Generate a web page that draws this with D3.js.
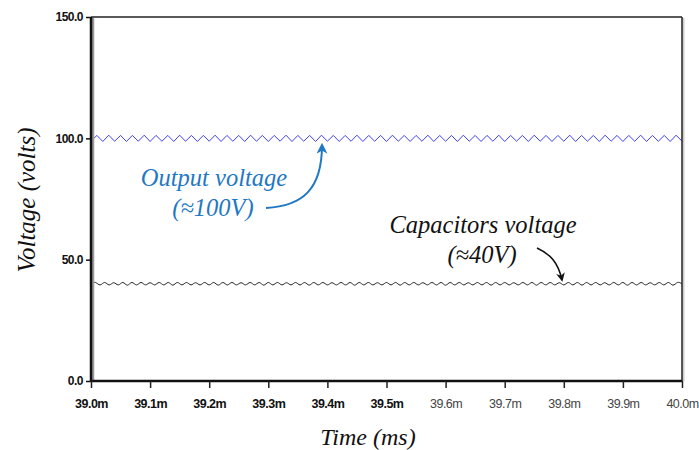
<!DOCTYPE html>
<html lang="en">
<head>
	<meta charset="UTF-8">
	<title>Voltage vs time</title>
	<script src="https://d3js.org/d3.v7.min.js"></script>
	<style>
		body { margin: 0; background: #fff; }
	</style>
</head>
<body>
	<script type="text/javascript">
		// tick labels
		const xTicks = [39.0, 39.1, 39.2, 39.3, 39.4, 39.5, 39.6, 39.7, 39.8, 39.9, 40.0];
		const yTicks = [0, 50, 100, 150];

		// output voltage, sampled at every ripple peak / trough (0.01 ms apart)
		const outStep = 0.01;
		const outputVoltage = [
			98.8, 101.2, 98.7, 101.3, 98.8, 101.2, 98.7, 101.2, 98.8, 101.3,
			98.7, 101.2, 98.8, 101.2, 98.7, 101.3, 98.8, 101.2, 98.7, 101.2,
			98.8, 101.3, 98.7, 101.2, 98.8, 101.2, 98.7, 101.3, 98.8, 101.2,
			98.7, 101.2, 98.8, 101.3, 98.7, 101.2, 98.8, 101.2, 98.7, 101.3,
			98.8, 101.2, 98.7, 101.2, 98.8, 101.3, 98.7, 101.2, 98.8, 101.2,
			98.7, 101.3, 98.8, 101.2, 98.7, 101.2, 98.8, 101.3, 98.7, 101.2,
			98.8, 101.2, 98.7, 101.3, 98.8, 101.2, 98.7, 101.2, 98.8, 101.3,
			98.7, 101.2, 98.8, 101.2, 98.7, 101.3, 98.8, 101.2, 98.7, 101.2,
			98.8, 101.3, 98.7, 101.2, 98.8, 101.2, 98.7, 101.3, 98.8, 101.2,
			98.7, 101.2, 98.8, 101.3, 98.7, 101.2, 98.8, 101.2, 98.7, 101.3,
			98.8
		];

		// capacitors voltage, sampled at every ripple peak / trough
		const capStep = 1 / 130;
		const capacitorsVoltage = [
			40.0, 40.6, 39.6, 40.6, 39.6, 40.5, 39.6, 40.6, 39.5, 40.6,
			39.6, 40.6, 39.6, 40.5, 39.6, 40.6, 39.6, 40.6, 39.5, 40.6,
			39.6, 40.6, 39.6, 40.5, 39.6, 40.6, 39.6, 40.6, 39.5, 40.6,
			39.6, 40.6, 39.6, 40.5, 39.6, 40.6, 39.6, 40.6, 39.5, 40.6,
			39.6, 40.6, 39.6, 40.5, 39.6, 40.6, 39.6, 40.6, 39.5, 40.6,
			39.6, 40.6, 39.6, 40.5, 39.6, 40.6, 39.6, 40.6, 39.5, 40.6,
			39.6, 40.6, 39.6, 40.5, 39.6, 40.6, 39.6, 40.6, 39.5, 40.6,
			39.6, 40.6, 39.6, 40.5, 39.6, 40.6, 39.6, 40.6, 39.5, 40.6,
			39.6, 40.6, 39.6, 40.5, 39.6, 40.6, 39.6, 40.6, 39.5, 40.6,
			39.6, 40.6, 39.6, 40.5, 39.6, 40.6, 39.6, 40.6, 39.5, 40.6,
			39.6, 40.6, 39.6, 40.5, 39.6, 40.6, 39.6, 40.6, 39.5, 40.6,
			39.6, 40.6, 39.6, 40.5, 39.6, 40.6, 39.6, 40.6, 39.5, 40.6,
			39.6, 40.6, 39.6, 40.5, 39.6, 40.6, 39.6, 40.6, 39.5, 40.6,
			40.0
		];

		const width = 699;
		const height = 450;
		const mLeft = 91, mRight = 682, mTop = 17, mBottom = 381;

		const xScale = d3.scaleLinear().domain([39.0, 40.0]).range([mLeft, mRight]);
		const yScale = d3.scaleLinear().domain([0, 150]).range([mBottom, mTop]);

		const svg = d3.select("body")
			.append("svg")
			.attr("width", width)
			.attr("height", height);

		// waveforms
		const outLine = d3.line()
			.x((d, i) => xScale(39.0 + i * outStep))
			.y((d) => yScale(d));

		svg.append("path")
			.datum(outputVoltage.filter((d, i) => 39.0 + i * outStep <= 40.0001))
			.attr("d", outLine)
			.attr("fill", "none")
			.attr("stroke", "#4040f5")
			.attr("stroke-width", 1);

		const capLine = d3.line()
			.x((d, i) => xScale(39.0 + i * capStep))
			.y((d) => yScale(d))
			.curve(d3.curveNatural);

		svg.append("path")
			.datum(capacitorsVoltage.filter((d, i) => 39.0 + i * capStep <= 40.0001))
			.attr("d", capLine)
			.attr("fill", "none")
			.attr("stroke", "#222")
			.attr("stroke-width", 1);

		// frame: top and right
		svg.append("line")
			.attr("x1", mLeft).attr("x2", mRight)
			.attr("y1", mTop).attr("y2", mTop)
			.attr("stroke", "#222").attr("stroke-width", 1.5);
		svg.append("line")
			.attr("x1", mRight + 1.5).attr("x2", mRight + 1.5)
			.attr("y1", mTop + 1).attr("y2", mBottom)
			.attr("stroke", "#ccc").attr("stroke-width", 2);
		svg.append("line")
			.attr("x1", mRight).attr("x2", mRight)
			.attr("y1", mTop).attr("y2", mBottom)
			.attr("stroke", "#222").attr("stroke-width", 1.5);

		// y axis (thick line with grey shade)
		svg.append("line")
			.attr("x1", mLeft + 2).attr("x2", mLeft + 2)
			.attr("y1", mTop + 1).attr("y2", mBottom)
			.attr("stroke", "#999").attr("stroke-width", 2.5);

		const yAxis = d3.axisLeft(yScale)
			.tickValues(yTicks)
			.tickSize(5)
			.tickPadding(3)
			.tickFormat(d3.format(".1f"));

		const gy = svg.append("g")
			.attr("transform", `translate(${mLeft},0)`)
			.call(yAxis);
		gy.select(".domain").attr("stroke", "#111").attr("stroke-width", 2.5).attr("d", `M0,${mTop}V${mBottom}`);
		gy.selectAll(".tick line").attr("stroke", "#111").attr("stroke-width", 1.5);
		gy.selectAll("text")
			.attr("font-family", "'Liberation Sans', Arial, sans-serif")
			.attr("font-weight", "bold")
			.attr("font-size", "12px")
			.attr("letter-spacing", "-0.5px")
			.attr("fill", "#111");

		// x axis
		const xAxis = d3.axisBottom(xScale)
			.tickValues(xTicks)
			.tickSize(7)
			.tickPadding(11)
			.tickFormat((d) => d3.format(".1f")(d) + "m");

		const gx = svg.append("g")
			.attr("transform", `translate(0,${mBottom})`)
			.call(xAxis);
		gx.select(".domain").attr("stroke", "#111").attr("stroke-width", 2.5).attr("d", `M${mLeft},0H${mRight}`);
		gx.selectAll(".tick line").attr("stroke", "#222").attr("stroke-width", 1.5);
		gx.selectAll("text")
			.attr("font-family", "'Liberation Sans', Arial, sans-serif")
			.attr("font-weight", (d) => d < 39.55 ? "bold" : "normal")
			.attr("font-size", "12.5px")
			.attr("letter-spacing", "-0.5px")
			.attr("fill", (d) => d < 39.55 ? "#111" : "#444");

		// axis titles
		const serif = "'Liberation Serif', 'Times New Roman', serif";
		svg.append("text")
			.attr("transform", "translate(35,200) rotate(-90)")
			.attr("text-anchor", "middle")
			.attr("font-family", serif)
			.attr("font-style", "italic")
			.attr("font-size", "25px")
			.attr("fill", "#111")
			.text("Voltage (volts)");

		svg.append("text")
			.attr("x", 368).attr("y", 445)
			.attr("text-anchor", "middle")
			.attr("font-family", serif)
			.attr("font-style", "italic")
			.attr("font-size", "24px")
			.attr("fill", "#111")
			.text("Time (ms)");

		// annotations
		const blue = "#1f78c4";
		svg.append("defs").selectAll("marker")
			.data([["arrBlue", blue], ["arrBlack", "#111"]])
			.enter()
			.append("marker")
			.attr("id", (d) => d[0])
			.attr("viewBox", "0 0 10 10")
			.attr("refX", 8).attr("refY", 5)
			.attr("markerWidth", 5.5).attr("markerHeight", 5.5)
			.attr("orient", "auto")
			.append("path")
			.attr("d", "M0,0L10,5L0,10L3,5Z")
			.attr("fill", (d) => d[1]);

		const notes = [
			{ lines: ["Output voltage", "(≈100V)"], x: 214, y: 186, color: blue },
			{ lines: ["Capacitors voltage", "(≈40V)"], x: 483, y: 233, color: "#111" }
		];
		notes.forEach((n) => {
			svg.append("text")
				.attr("x", n.x).attr("y", n.y)
				.attr("text-anchor", "middle")
				.attr("font-family", serif)
				.attr("font-style", "italic")
				.attr("font-size", "24.5px")
				.attr("fill", n.color)
				.text(n.lines[0]);
			svg.append("text")
				.attr("x", n.x - 1).attr("y", n.y + 30)
				.attr("text-anchor", "middle")
				.attr("font-family", serif)
				.attr("font-style", "italic")
				.attr("font-size", "24.5px")
				.attr("fill", n.color)
				.text(n.lines[1]);
		});

		svg.append("path")
			.attr("d", "M266,208 C302,206 322,190 322,145")
			.attr("fill", "none")
			.attr("stroke", blue)
			.attr("stroke-width", 2)
			.attr("marker-end", "url(#arrBlue)");

		svg.append("path")
			.attr("d", "M537,248 C550,254 558,262 562,280")
			.attr("fill", "none")
			.attr("stroke", "#111")
			.attr("stroke-width", 1.6)
			.attr("marker-end", "url(#arrBlack)");
	</script>
</body>
</html>
